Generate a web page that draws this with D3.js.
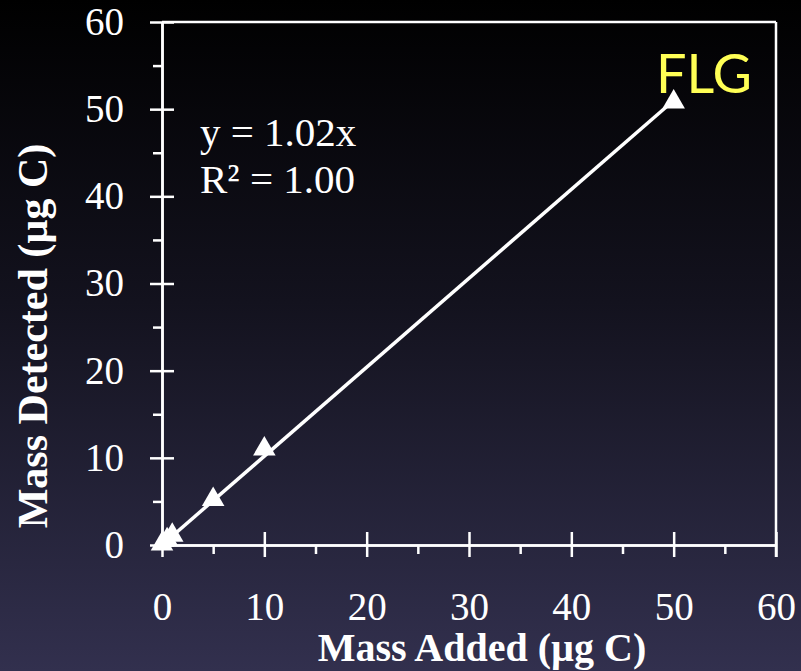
<!DOCTYPE html>
<html>
<head>
<meta charset="utf-8">
<script src="https://cdn.jsdelivr.net/npm/d3@7"></script>
<style>
  html, body { margin: 0; padding: 0; background: #000; }
  svg { display: block; }
</style>
</head>
<body>
<svg></svg>
<script>
const massAdded = [0, 0.5, 1, 5, 10, 50];
const massDetected = [0, 0.5, 1, 5.1, 10.9, 50.7];
const majorTicks = [0, 10, 20, 30, 40, 50, 60];
const minorTicks = [5, 15, 25, 35, 45, 55];
const slope = 1.02;
const equationLines = ["y = 1.02x", "R\u00B2 = 1.00"];

const width = 801;
const height = 671;

const svg = d3.select("svg")
    .attr("width", width)
    .attr("height", height);

// achtergrond verloop
const defs = svg.append("defs");
const grad = defs.append("linearGradient")
    .attr("id", "bg")
    .attr("x1", 0).attr("y1", 0)
    .attr("x2", 0).attr("y2", 1);
grad.append("stop").attr("offset", "0%").attr("stop-color", "#000000");
grad.append("stop").attr("offset", "45%").attr("stop-color", "#13121e");
grad.append("stop").attr("offset", "100%").attr("stop-color", "#32304e");

svg.append("rect")
    .attr("width", width)
    .attr("height", height)
    .attr("fill", "url(#bg)");

const x = d3.scaleLinear().domain([0, 60]).range([162, 776]);
const y = d3.scaleLinear().domain([0, 60]).range([545, 22]);

const serif = "'Liberation Serif', 'Times New Roman', serif";
const axisColor = "#ffffff";

// x as
const xMajor = svg.append("g")
    .attr("transform", `translate(0,${y(0)})`)
    .call(d3.axisBottom(x).tickValues(majorTicks).tickSize(12).tickPadding(35).tickSizeOuter(0));
xMajor.selectAll(".tick line").attr("y1", -13);

const xMinor = svg.append("g")
    .attr("transform", `translate(0,${y(0)})`)
    .call(d3.axisBottom(x).tickValues(minorTicks).tickSize(9).tickFormat("").tickSizeOuter(0));

// y as
const yMajor = svg.append("g")
    .attr("transform", `translate(${x(0)},0)`)
    .call(d3.axisLeft(y).tickValues(majorTicks).tickSize(12).tickPadding(26).tickSizeOuter(0));
yMajor.selectAll(".tick line").attr("x1", 12);

const yMinor = svg.append("g")
    .attr("transform", `translate(${x(0)},0)`)
    .call(d3.axisLeft(y).tickValues(minorTicks).tickSize(9).tickFormat("").tickSizeOuter(0));

[xMajor, xMinor, yMajor, yMinor].forEach(g => {
    g.select(".domain").attr("stroke", axisColor).attr("stroke-width", 2.5);
    g.selectAll(".tick line").attr("stroke", axisColor).attr("stroke-width", 2.5);
    g.selectAll(".tick text")
        .attr("fill", axisColor)
        .style("font-family", serif)
        .style("font-size", "39px");
});

// bovenrand en rechterrand
svg.append("line")
    .attr("x1", x(0)).attr("x2", x(60))
    .attr("y1", y(60)).attr("y2", y(60))
    .attr("stroke", axisColor).attr("stroke-width", 2.5);
svg.append("line")
    .attr("x1", x(60)).attr("x2", x(60))
    .attr("y1", y(60)).attr("y2", y(0) + 12)
    .attr("stroke", axisColor).attr("stroke-width", 2.5);

// trendlijn
const xExt = d3.extent(massAdded);
svg.append("line")
    .attr("x1", x(xExt[0])).attr("y1", y(slope * xExt[0]))
    .attr("x2", x(xExt[1])).attr("y2", y(slope * xExt[1]))
    .attr("stroke", "#ffffff")
    .attr("stroke-width", 3.5);

// punten
const tri = d3.symbol().type(d3.symbolTriangle).size(220);
svg.selectAll(".pt")
    .data(massAdded.map((d, i) => [d, massDetected[i]]))
    .enter().append("path")
    .attr("class", "pt")
    .attr("d", tri)
    .attr("transform", d => `translate(${x(d[0])},${y(d[1]) - 1})`)
    .attr("fill", "#ffffff");

// vergelijking
svg.append("g").selectAll("text")
    .data(equationLines)
    .enter().append("text")
    .attr("x", 200)
    .attr("y", (d, i) => 146 + i * 47)
    .attr("fill", "#ffffff")
    .style("font-family", serif)
    .style("font-size", "41px")
    .text(d => d);

// label
svg.append("text")
    .attr("x", 704)
    .attr("y", 93)
    .attr("text-anchor", "middle")
    .attr("fill", "#ffff55")
    .style("font-family", "Lato, 'Open Sans', sans-serif")
    .style("font-size", "54px")
    .text("FLG");

// as titels
svg.append("text")
    .attr("x", 482)
    .attr("y", 661)
    .attr("text-anchor", "middle")
    .attr("fill", "#ffffff")
    .style("font-family", serif)
    .style("font-weight", "bold")
    .style("font-size", "40px")
    .text("Mass Added (\u00B5g C)");

svg.append("text")
    .attr("transform", "translate(47,336) rotate(-90)")
    .attr("text-anchor", "middle")
    .attr("fill", "#ffffff")
    .style("font-family", serif)
    .style("font-weight", "bold")
    .style("font-size", "42px")
    .text("Mass Detected (\u00B5g C)");
</script>
</body>
</html>
